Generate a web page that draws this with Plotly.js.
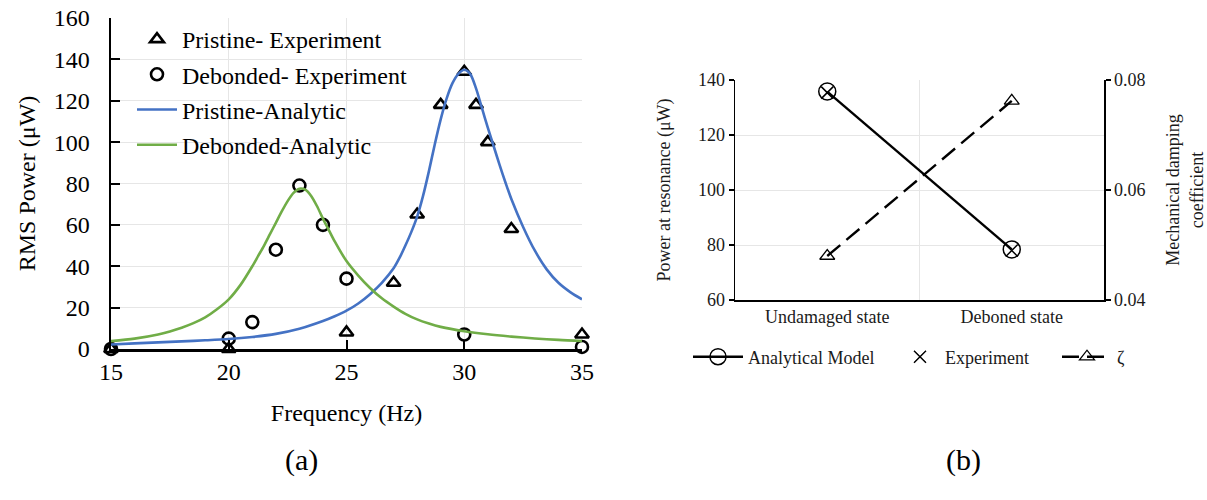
<!DOCTYPE html>
<html>
<head>
<meta charset="utf-8">
<script src="https://cdn.plot.ly/plotly-3.0.1.min.js"></script>
<style>html,body{margin:0;padding:0;background:#fff;}#chart{width:1207px;height:500px;}</style>
</head>
<body>
<div id="chart"></div>
<script>
// ---- (a) frequency response data ----
const pristineExpFreq = [15, 20, 25, 27, 28, 29, 30, 30.5, 31, 32, 35];
const pristineExpPower = [0, 0, 8, 32, 65, 118, 134, 118, 100, 58, 7];
const debondedExpFreq = [15, 20, 21, 22, 23, 24, 25, 30, 35];
const debondedExpPower = [0, 5, 13, 48, 79, 60, 34, 7, 1];

const pristineAnaFreq = [15, 16, 17, 18, 19, 20, 21, 22, 23, 24, 24.5, 25, 25.5, 26, 26.5, 27, 27.25, 27.5, 27.75, 28, 28.25, 28.5, 28.75, 29, 29.25, 29.5, 29.75, 30, 30.25, 30.5, 30.75, 31, 31.25, 31.5, 31.75, 32, 32.5, 33, 33.5, 34, 34.5, 35];
const pristineAnaPower = [2.2, 2.7, 3.2, 3.7, 4.2, 4.8, 5.8, 7.3, 9.8, 13.5, 15.8, 18.5, 22, 26.5, 32, 39, 44, 50, 56.5, 64, 74, 86, 99, 111, 121, 128.5, 133, 135, 133, 126, 116.5, 107, 98, 89, 80.5, 72.5, 59, 47.5, 38.5, 32, 27.5, 24];

const debondedAnaFreq = [15, 16, 17, 17.5, 18, 18.5, 19, 19.5, 20, 20.5, 21, 21.25, 21.5, 21.75, 22, 22.25, 22.5, 22.75, 23, 23.25, 23.5, 23.75, 24, 24.25, 24.5, 25, 25.5, 26, 26.5, 27, 27.5, 28, 28.5, 29, 30, 31, 32, 33, 34, 35];
const debondedAnaPower = [3.8, 5, 7, 8.5, 10.3, 12.5, 15.3, 19.2, 24, 31, 40, 45, 50, 55.5, 61, 66.5, 71.5, 75.5, 77.5, 77, 74, 69, 63, 57.5, 52, 42.5, 35.5, 29.5, 24.5, 20.5, 17, 14.3, 12.3, 10.7, 8.6, 7.1, 6, 5.1, 4.4, 3.9];

// ---- (b) resonance summary data ----
const states = ['Undamaged state', 'Deboned state'];
const analyticalPower = [135.8, 78.4];
const experimentPower = [135.4, 78.0];
const dampingZeta = [0.048, 0.0762];

const serifA = '"Liberation Serif", "Times New Roman", serif';
const black = '#000000';
const dark = '#1a1a1a';
const grid = '#e6e6e6';

const traces = [
  {x: pristineExpFreq, y: pristineExpPower, name: 'Pristine- Experiment', mode: 'markers', type: 'scatter',
   xaxis: 'x', yaxis: 'y', cliponaxis: false, legend: 'legend', legendgroup: 'g1',
   marker: {symbol: 'triangle-up-open', size: 12, color: black, line: {width: 2.6, color: black}}},
  {x: debondedExpFreq, y: debondedExpPower, name: 'Debonded- Experiment', mode: 'markers', type: 'scatter',
   xaxis: 'x', yaxis: 'y', cliponaxis: false, legend: 'legend', legendgroup: 'g2',
   marker: {symbol: 'circle-open', size: 12, color: black, line: {width: 2.6, color: black}}},
  {x: pristineAnaFreq, y: pristineAnaPower, name: 'Pristine-Analytic', mode: 'lines', type: 'scatter',
   xaxis: 'x', yaxis: 'y', legend: 'legend', legendgroup: 'g3',
   line: {color: '#4472C4', width: 2.6, shape: 'spline', smoothing: 0.8}},
  {x: debondedAnaFreq, y: debondedAnaPower, name: 'Debonded-Analytic', mode: 'lines', type: 'scatter',
   xaxis: 'x', yaxis: 'y', legend: 'legend', legendgroup: 'g4',
   line: {color: '#70AD47', width: 2.6, shape: 'spline', smoothing: 0.8}},

  {x: states, y: analyticalPower, name: 'Analytical Model', mode: 'lines+markers', type: 'scatter',
   xaxis: 'x2', yaxis: 'y2', cliponaxis: false, legend: 'legend2',
   line: {color: black, width: 2.4},
   marker: {symbol: 'circle-open', size: 17, color: black, line: {width: 1.5, color: black}}},
  {x: states, y: experimentPower, name: 'Experiment', mode: 'markers', type: 'scatter',
   xaxis: 'x2', yaxis: 'y2', cliponaxis: false, legend: 'legend3',
   marker: {symbol: 'x-thin-open', size: 12, color: black, line: {width: 1.5, color: black}}},
  {x: states, y: dampingZeta, name: 'ζ', mode: 'lines+markers', type: 'scatter',
   xaxis: 'x2', yaxis: 'y3', cliponaxis: false, legend: 'legend4',
   line: {color: black, width: 2.4, dash: '17px,8px'},
   marker: {symbol: 'triangle-up-open', size: 13, color: black, line: {width: 1.3, color: black}}}
];

const layout = {
  width: 1207, height: 500,
  margin: {l: 0, r: 0, t: 0, b: 0},
  paper_bgcolor: '#ffffff', plot_bgcolor: '#ffffff',
  font: {family: serifA, color: black, size: 22},
  showlegend: true,
  xaxis: {
    domain: [111/1207, 582/1207], anchor: 'y', range: [15, 35], dtick: 5, tick0: 15,
    showgrid: true, gridcolor: grid, gridwidth: 1, zeroline: false,
    showline: true, linecolor: black, linewidth: 2.5,
    ticks: 'inside', ticklen: 9, tickwidth: 2, tickcolor: black,
    tickfont: {family: serifA, size: 24, color: black},
    title: {text: 'Frequency (Hz)', font: {family: serifA, size: 24, color: black}, standoff: 20}
  },
  yaxis: {
    domain: [1 - 349/500, 1 - 18/500], anchor: 'x', range: [0, 160], dtick: 20,
    showgrid: true, gridcolor: grid, gridwidth: 1, zeroline: false,
    showline: true, linecolor: black, linewidth: 2.5,
    ticks: 'inside', ticklen: 9, tickwidth: 2, tickcolor: black, ticklabelstandoff: 14,
    tickfont: {family: serifA, size: 24, color: black},
    title: {text: 'RMS Power (μW)', font: {family: serifA, size: 24, color: black}, standoff: 12}
  },
  xaxis2: {
    domain: [735/1207, 1104/1207], anchor: 'y2', type: 'category',
    categoryorder: 'array', categoryarray: states, range: [-0.5, 1.5],
    tickson: 'boundaries', showgrid: true, gridcolor: grid, gridwidth: 1,
    showline: true, linecolor: black, linewidth: 1.5, ticks: '',
    tickfont: {family: serifA, size: 18, color: dark}
  },
  yaxis2: {
    domain: [1 - 300/500, 1 - 80/500], anchor: 'x2', range: [60, 140], dtick: 20,
    showgrid: true, gridcolor: grid, gridwidth: 1, zeroline: false,
    showline: true, linecolor: black, linewidth: 1.5,
    ticks: 'outside', ticklen: 5, tickwidth: 1.2, tickcolor: black,
    tickfont: {family: serifA, size: 18, color: dark},
    title: {text: 'Power at resonance (μW)', font: {family: serifA, size: 18, color: dark}, standoff: 22}
  },
  yaxis3: {
    overlaying: 'y2', anchor: 'x2', side: 'right', range: [0.04, 0.08], dtick: 0.02, tick0: 0.04,
    tickformat: '.2f', showgrid: false, zeroline: false,
    showline: true, linecolor: black, linewidth: 1.5,
    ticks: 'outside', ticklen: 5, tickwidth: 1.2, tickcolor: black,
    tickfont: {family: serifA, size: 18, color: dark},
    title: {text: 'Mechanical damping<br>coefficient', font: {family: serifA, size: 18, color: dark}, standoff: 22}
  },
  legend: {
    x: 132/1207, xanchor: 'left', y: 1 - 17/500, yanchor: 'top',
    bgcolor: 'rgba(255,255,255,0)', borderwidth: 0,
    font: {family: serifA, size: 24, color: black},
    itemwidth: 40, traceorder: 'grouped', tracegroupgap: 1
  },
  legend2: {
    x: 688/1207, xanchor: 'left', y: 1 - 357/500, yanchor: 'middle', orientation: 'h',
    bgcolor: 'rgba(255,255,255,0)', font: {family: serifA, size: 18, color: dark}, itemwidth: 50
  },
  legend3: {
    x: 895/1207, xanchor: 'left', y: 1 - 357/500, yanchor: 'middle', orientation: 'h',
    bgcolor: 'rgba(255,255,255,0)', font: {family: serifA, size: 18, color: dark}, itemwidth: 40
  },
  legend4: {
    x: 1057/1207, xanchor: 'left', y: 1 - 357/500, yanchor: 'middle', orientation: 'h',
    bgcolor: 'rgba(255,255,255,0)', font: {family: serifA, size: 18, color: dark}, itemwidth: 50
  },
  annotations: [
    {text: '(a)', x: 301/1207, y: 1 - 460/500, xref: 'paper', yref: 'paper', showarrow: false,
     xanchor: 'center', yanchor: 'middle', font: {family: serifA, size: 30, color: black}},
    {text: '(b)', x: 963/1207, y: 1 - 460/500, xref: 'paper', yref: 'paper', showarrow: false,
     xanchor: 'center', yanchor: 'middle', font: {family: serifA, size: 30, color: black}}
  ]
};

Plotly.newPlot('chart', traces, layout, {displayModeBar: false, staticPlot: true});
</script>
</body>
</html>
